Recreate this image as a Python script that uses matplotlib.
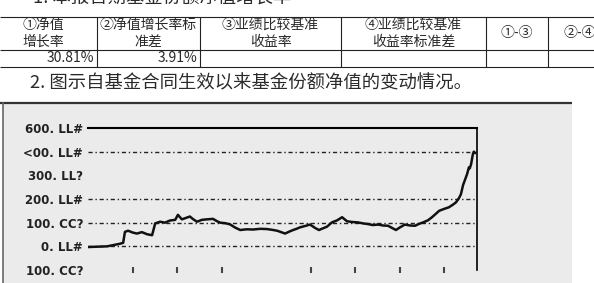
import matplotlib
matplotlib.use("Agg")
import matplotlib.pyplot as plt
from matplotlib.patches import Rectangle

plt.rcParams['font.family'] = ['Noto Sans CJK SC', 'DejaVu Sans']

# 文字
title_1 = "1. 本报告期基金份额净值增长率"
title_2 = "2. 图示自基金合同生效以来基金份额净值的变动情况。"

# 表格
header_lines = [["①净值", "增长率"], ["②净值增长率标", "准差"], ["③业绩比较基准", "收益率"],
                ["④业绩比较基准", "收益率标准差"], ["①-③"], ["②-④"]]
row_values = ["30.81%", "3.91%", "", "", "", ""]

# 净值增长率曲线 (x: 以刻度间隔为单位, y: %)
x_pos = [0.0, 0.43, 0.72, 0.79, 0.83, 0.90, 1.01, 1.10, 1.21, 1.33, 1.44, 1.51, 1.62, 1.73,
         1.84, 1.96, 2.02, 2.11, 2.20, 2.29, 2.36, 2.45, 2.56, 2.67, 2.81, 2.90, 2.97, 3.08,
         3.19, 3.30, 3.42, 3.57, 3.71, 3.87, 4.02, 4.13, 4.25, 4.34, 4.43, 4.52, 4.61, 4.70,
         4.76, 4.88, 4.99, 5.10, 5.19, 5.28, 5.37, 5.48, 5.60, 5.71, 5.82, 5.93, 6.07, 6.18,
         6.29, 6.40, 6.52, 6.63, 6.74, 6.83, 6.92, 7.01, 7.12, 7.24, 7.35, 7.44, 7.53, 7.64,
         7.73, 7.82, 7.89, 8.00, 8.11, 8.20, 8.27, 8.34, 8.38, 8.43, 8.47, 8.52, 8.54, 8.56,
         8.58, 8.61, 8.63, 8.65, 8.67, 8.70]
nav_growth = [-3, 0, 11, 15, 61, 66, 58, 54, 60, 51, 47, 97, 104, 100,
              109, 112, 133, 114, 120, 126, 115, 104, 112, 114, 116, 106, 100, 98,
              93, 80, 69, 72, 71, 74, 73, 70, 66, 60, 54, 62, 69, 75,
              80, 86, 92, 78, 69, 76, 83, 101, 110, 123, 106, 103, 101, 97,
              94, 90, 92, 88, 87, 78, 69, 80, 92, 88, 87, 95, 101, 110,
              123, 138, 150, 158, 165, 176, 186, 205, 220, 260, 280, 306, 320, 334,
              330, 348, 370, 390, 400, 395]

y_levels = [500, 400, 300, 200, 100, 0, -100]
y_labels = ["600. LL#", "<00. LL#", "300. LL?", "200. LL#", "100. CC?", "0. LL#", "100. CC?"]
grid_levels = [400, 200, 100, 0]
x_ticks = [1, 2, 3, 5, 6, 7, 8]

fig = plt.figure(figsize=(5.94, 2.83), dpi=100)

# 背景层, 以像素为坐标
bg = fig.add_axes([0, 0, 1, 1])
bg.set_xlim(0, 594)
bg.set_ylim(283, 0)
bg.axis('off')

txt = '#2a2a2a'
bg.text(33, -1, title_1, fontsize=13.2, color=txt, va='center', ha='left')

# 表格线
bg.hlines([17, 50, 67], 0, 594, color='#222222', lw=0.8)
col_edges = [97, 200, 341, 486, 548]
bg.vlines(col_edges, 17, 67, color='#222222', lw=0.8)

col_centers = [43, 148.5, 270.5, 413.5, 517, 580]
for cx, lines in zip(col_centers, header_lines):
    if len(lines) == 2:
        bg.text(cx, 25, lines[0], fontsize=10, color=txt, ha='center', va='center')
        bg.text(cx, 42, lines[1], fontsize=10, color=txt, ha='center', va='center')
    else:
        bg.text(cx, 33, lines[0], fontsize=10, color=txt, ha='center', va='center')

right_edges = [94, 197]
for rx, v in zip(right_edges, row_values):
    bg.text(rx, 58.5, v, fontsize=10, color=txt, ha='right', va='center')

bg.text(30, 83, title_2, fontsize=13.2, color=txt, va='center', ha='left')

# 图框
bg.add_patch(Rectangle((3, 103), 569, 185, facecolor='#ebebeb', edgecolor='none'))
bg.plot([0, 572], [103, 103], color='#333333', lw=1.6, solid_capstyle='butt')
bg.plot([3, 3], [103, 283], color='#666666', lw=1.2)

# 曲线
ax = fig.add_axes([88 / 594, 13 / 283, 389 / 594, 142 / 283])
ax.patch.set_visible(False)
ax.set_xlim(0, 389 / 44.5)
ax.set_ylim(-100, 500)

for lv in grid_levels:
    ax.axhline(lv, color='#222222', lw=1.0, dashes=(3, 2, 1, 2))

ax.plot(x_pos, nav_growth, color='#111111', lw=1.8, zorder=3)

for s in ['left', 'bottom']:
    ax.spines[s].set_visible(False)
ax.spines['top'].set_linewidth(1.5)
ax.spines['right'].set_linewidth(1.2)

ax.set_yticks(y_levels)
ax.set_yticklabels(y_labels, fontsize=8.5, fontweight='bold', family='DejaVu Sans', color='#222222')
ax.tick_params(axis='y', length=0, pad=3.6)
ax.set_xticks(x_ticks)
ax.set_xticklabels([])
ax.tick_params(axis='x', length=4, width=1.5, color='#444444', direction='inout')

fig.savefig('out.png', dpi=100)
